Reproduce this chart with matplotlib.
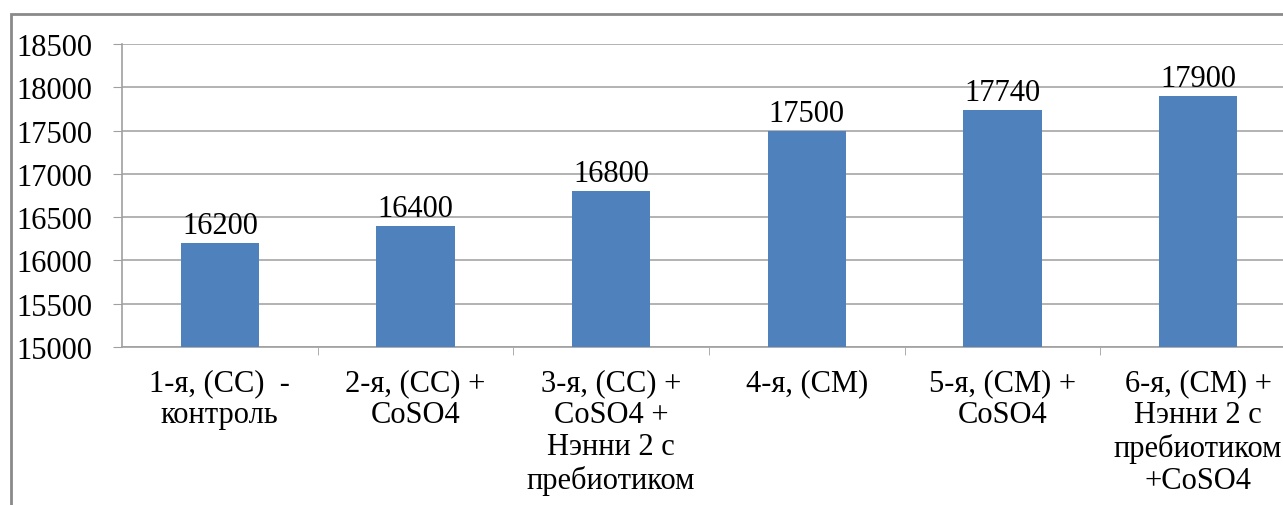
import matplotlib.pyplot as plt
import numpy as np
from matplotlib.patches import Rectangle

plt.rcParams['font.family'] = ['Liberation Serif', 'DejaVu Serif']

# Groups and their values
groups = ['1-я, (СС)  -\nконтроль',
          '2-я, (СС) +\nCoSO4',
          '3-я, (СС) +\nCoSO4 +\nНэнни 2 с\nпребиотиком',
          '4-я, (СМ)',
          '5-я, (СМ) +\nCoSO4',
          '6-я, (СМ) +\nНэнни 2 с\nпребиотиком\n+CoSO4']
values = [16200, 16400, 16800, 17500, 17740, 17900]
y_ticks = [15000, 15500, 16000, 16500, 17000, 17500, 18000, 18500]

W, H = 1283, 506
fig = plt.figure(figsize=(W / 100, H / 100), dpi=100)

# frame around the chart area (cut off at the right and bottom)
fig.patches.append(Rectangle((11 / W, -0.1), 1.2, (506 - 15) / H + 0.1,
                             transform=fig.transFigure, fill=False,
                             edgecolor='#8a8a8a', linewidth=2))

ax = fig.add_axes([122 / W, (H - 348) / H, (1296 - 122) / W, 303 / H])
x = np.arange(len(values))
ax.bar(x, values, width=0.4, color='#4F81BD', zorder=3)

for xi, v in zip(x, values):
    ax.text(xi, v + 35, str(v), ha='center', va='bottom', fontsize=22)

ax.set_ylim(15000, 18500)
ax.set_xlim(-0.5, len(values) - 0.5)
ax.set_yticks(y_ticks)
ax.tick_params(axis='y', labelsize=22, length=6.5, color='#a0a0a0', pad=15)
ax.grid(axis='y', color='#a6a6a6', linewidth=1.2, zorder=0)

ax.set_xticks(x)
ax.set_xticklabels(groups, fontsize=22, linespacing=1.15)
ax.tick_params(axis='x', length=0, pad=15)
ax.set_xticks(np.arange(0.5, len(values) - 0.5), minor=True)
ax.tick_params(axis='x', which='minor', length=6, color='#a0a0a0')

for s in ['top', 'right']:
    ax.spines[s].set_visible(False)
for s in ['left', 'bottom']:
    ax.spines[s].set_color('#a0a0a0')
    ax.spines[s].set_linewidth(1.2)

fig.savefig('out.png', dpi=100)
